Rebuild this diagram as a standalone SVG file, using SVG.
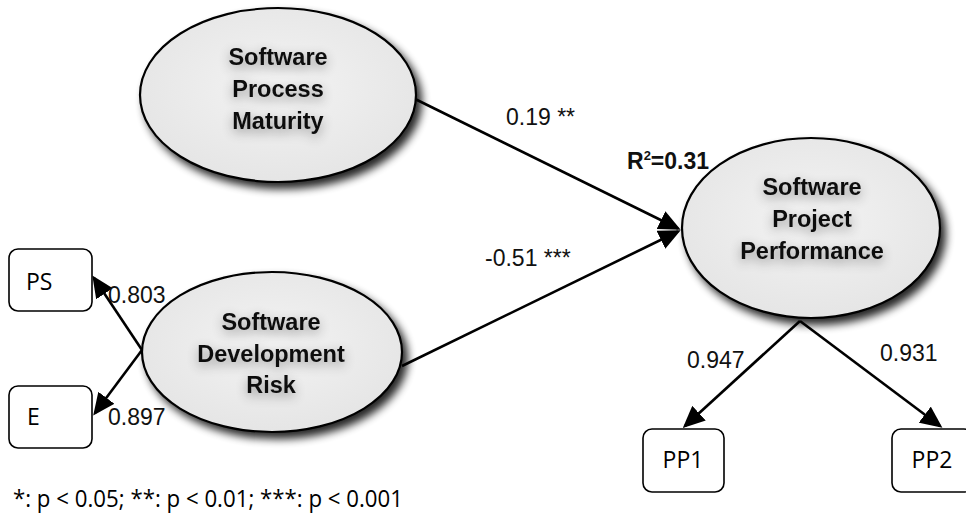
<svg xmlns="http://www.w3.org/2000/svg" width="966" height="518" viewBox="0 0 966 518">
<defs>
<style>
.ell{fill:url(#eg);stroke:#000;stroke-width:2.2;filter:url(#sh)}
.et{font-family:"Liberation Sans",Arial,sans-serif;font-weight:bold;font-size:23.5px;fill:#111;text-anchor:middle;filter:url(#tg)}
.box{fill:#fff;stroke:#000;stroke-width:1.6}
.bt{font-family:"Open Sans","Noto Sans",sans-serif;font-size:23px;fill:#000}
.lab{font-family:"Liberation Sans",Arial,sans-serif;font-size:23px;fill:#111}
.con{stroke:#000;stroke-width:2.6;fill:none;marker-end:url(#ah)}
</style>
<radialGradient id="eg" cx="50%" cy="45%" r="60%">
<stop offset="0" stop-color="#f3f3f3"/>
<stop offset="1" stop-color="#e4e4e4"/>
</radialGradient>
<filter id="sh" x="-10%" y="-10%" width="125%" height="130%">
<feGaussianBlur in="SourceAlpha" stdDeviation="4"/>
<feOffset dx="5" dy="6" result="b"/>
<feComponentTransfer><feFuncA type="linear" slope="0.85"/></feComponentTransfer>
<feMerge><feMergeNode/><feMergeNode in="SourceGraphic"/></feMerge>
</filter>
<filter id="tg" x="-30%" y="-60%" width="160%" height="240%">
<feGaussianBlur in="SourceAlpha" stdDeviation="6"/>
<feOffset dx="0" dy="4"/>
<feComponentTransfer><feFuncA type="linear" slope="0.4"/></feComponentTransfer>
<feMerge><feMergeNode/><feMergeNode in="SourceGraphic"/></feMerge>
</filter>
<marker id="ah" viewBox="0 0 22 20" refX="19" refY="10" markerWidth="22" markerHeight="20" markerUnits="userSpaceOnUse" orient="auto">
<path d="M0,0 L22,10 L0,20 z" fill="#000"/>
</marker>
</defs>
<rect width="966" height="518" fill="#fff"/>

<g id="connectors">
<line class="con" x1="413" y1="98" x2="678" y2="228.5"/>
<line class="con" x1="402" y1="366" x2="678" y2="231.5"/>
<line class="con" x1="142" y1="350" x2="94" y2="278"/>
<line class="con" x1="142" y1="350" x2="95" y2="413"/>
<line class="con" x1="800" y1="321" x2="685" y2="426"/>
<line class="con" x1="800" y1="321" x2="940" y2="426"/>
<text class="lab" x="506" y="125">0.19 **</text>
<text class="lab" x="485" y="266">-0.51 ***</text>
<text class="lab" x="108" y="303">0.803</text>
<text class="lab" x="108" y="425">0.897</text>
<text class="lab" x="687" y="368">0.947</text>
<text class="lab" x="880" y="361">0.931</text>
</g>

<g id="spm">
<ellipse class="ell" cx="278" cy="95" rx="138" ry="87"/>
<text class="et" x="278" y="65">Software</text>
<text class="et" x="278" y="97">Process</text>
<text class="et" x="278" y="129">Maturity</text>
</g>

<g id="spp">
<ellipse class="ell" cx="811" cy="228" rx="129" ry="90"/>
<text class="et" x="812" y="195">Software</text>
<text class="et" x="812" y="227">Project</text>
<text class="et" x="812" y="259">Performance</text>
<text x="627" y="169" font-family="Liberation Sans, Arial, sans-serif" font-weight="bold" font-size="23" fill="#111">R<tspan font-size="13" dy="-9">2</tspan><tspan dy="9">=0.31</tspan></text>
</g>

<g id="sdr">
<ellipse class="ell" cx="272" cy="352" rx="130" ry="80"/>
<text class="et" x="271" y="330">Software</text>
<text class="et" x="271" y="362">Development</text>
<text class="et" x="271" y="393">Risk</text>
</g>

<g id="ps">
<rect class="box" x="9" y="249" width="83" height="62" rx="9"/>
<text class="bt" x="26" y="290">PS</text>
</g>
<g id="e">
<rect class="box" x="9" y="386" width="83" height="62" rx="9"/>
<text class="bt" x="27" y="425">E</text>
</g>
<g id="pp1">
<rect class="box" x="643" y="429" width="81" height="63" rx="9"/>
<text class="bt" x="683" y="468" text-anchor="middle">PP1</text>
</g>
<g id="pp2">
<rect class="box" x="892" y="429" width="81" height="63" rx="9"/>
<text class="bt" x="932" y="468" text-anchor="middle">PP2</text>
</g>

<text class="bt" x="13" y="507" font-size="20" textLength="390" lengthAdjust="spacingAndGlyphs">*: p &lt; 0.05; **: p &lt; 0.01; ***: p &lt; 0.001</text>
</svg>
